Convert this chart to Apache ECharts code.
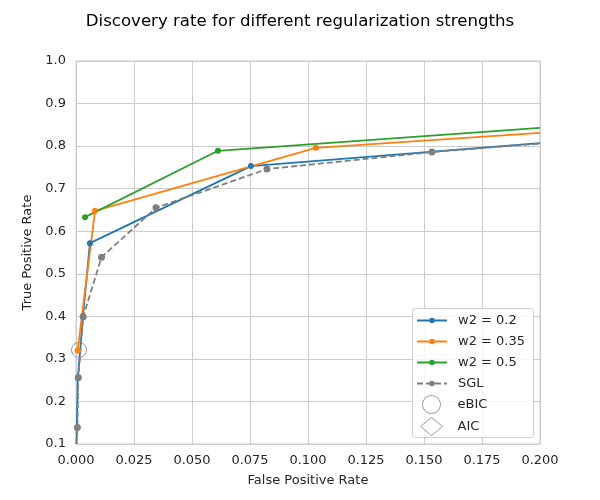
<!DOCTYPE html>
<html>
<head>
<meta charset="utf-8">
<script src="https://cdn.jsdelivr.net/npm/echarts@6/dist/echarts.min.js"></script>
<style>
  html, body { margin: 0; padding: 0; background: #fff; }
  #chart { width: 600px; height: 500px; }
</style>
</head>
<body>
<div id="chart"></div>
<script>
// values
const blueX = [0.0002, 0.0008, 0.003, 0.006, 0.0754, 0.2]
const blueY = [0.1, 0.255, 0.40, 0.572, 0.753, 0.807]
const orangeX = [0.0007, 0.0082, 0.1034, 0.2]
const orangeY = [0.32, 0.648, 0.796, 0.831]
const greenX = [0.0039, 0.0612, 0.2]
const greenY = [0.633, 0.789, 0.843]
const sglX = [0.0002, 0.0006, 0.001, 0.0031, 0.011, 0.0345, 0.0823, 0.1534, 0.2]
const sglY = [0.1, 0.139, 0.256, 0.399, 0.539, 0.655, 0.746, 0.786, 0.806]
const ebicX = [0.0013]
const ebicY = [0.321]
const aicX = []
const aicY = []

const font = 'DejaVu Sans'
const textColor = '#262626'

// points sitting on the plot edge are only where the line leaves the view, no dot there
function pts(xs, ys) {
  return xs.map((x, i) => {
    const edge = x >= 0.2 || ys[i] <= 0.1
    return edge ? { value: [x, ys[i]], symbolSize: 0 } : [x, ys[i]]
  })
}

function lineSeries(name, xs, ys, color, size, dashed) {
  return {
    name: name,
    type: 'line',
    data: pts(xs, ys),
    symbol: 'circle',
    symbolSize: size,
    clip: true,
    itemStyle: { color: color },
    lineStyle: { color: color, width: 1.8, type: dashed ? [6, 3] : 'solid' },
    emphasis: { disabled: true }
  }
}

const chart = echarts.init(document.getElementById('chart'))
chart.setOption({
  animation: false,
  title: {
    text: 'Discovery rate for different regularization strengths',
    left: 'center',
    top: 8,
    textStyle: { fontFamily: font, fontSize: 16.6, fontWeight: 'normal', color: '#000' }
  },
  grid: { left: 76, right: 60, top: 61, bottom: 56, show: true, borderColor: '#cccccc', borderWidth: 1 },
  xAxis: {
    type: 'value',
    min: 0, max: 0.2, interval: 0.025,
    name: 'False Positive Rate',
    nameLocation: 'middle',
    nameGap: 30,
    nameTextStyle: { fontFamily: font, fontSize: 13, color: textColor },
    axisLine: { show: false },
    axisTick: { show: false },
    axisLabel: { fontFamily: font, fontSize: 13, color: textColor, margin: 10, formatter: v => v.toFixed(3) },
    splitLine: { lineStyle: { color: '#cccccc', width: 1 } }
  },
  yAxis: {
    type: 'value',
    min: 0.1, max: 1.0, interval: 0.1,
    name: 'True Positive Rate',
    nameLocation: 'middle',
    nameGap: 38,
    nameTextStyle: { fontFamily: font, fontSize: 13, color: textColor },
    axisLine: { show: false },
    axisTick: { show: false },
    axisLabel: { fontFamily: font, fontSize: 13, color: textColor, margin: 10, formatter: v => v.toFixed(1) },
    splitLine: { lineStyle: { color: '#cccccc', width: 1 } }
  },
  // legend frame, shared by the two legends below
  graphic: [{
    type: 'rect',
    z: 3,
    shape: { x: 412.5, y: 308.5, width: 121, height: 129, r: 3 },
    style: { fill: 'rgba(255,255,255,0.8)', stroke: '#cccccc', lineWidth: 1 }
  }],
  legend: [
    {
      orient: 'vertical',
      left: 411,
      top: 313,
      padding: [0, 0, 0, 5],
      itemGap: 6,
      itemWidth: 30,
      itemHeight: 7,
      textStyle: { fontFamily: font, fontSize: 13, color: textColor, padding: [0, 0, 0, 6], lineHeight: 15 },
      data: ['w2 = 0.2', 'w2 = 0.35', 'w2 = 0.5', 'SGL']
    },
    {
      orient: 'vertical',
      left: 420,
      top: 395,
      padding: 0,
      itemGap: 3,
      itemWidth: 22,
      itemHeight: 18,
      textStyle: { fontFamily: font, fontSize: 13, color: textColor, padding: [0, 0, 0, 10] },
      data: [
        { name: 'eBIC', icon: 'circle', itemStyle: { color: '#fff', borderColor: '#7f7f7f', borderWidth: 1 } },
        { name: 'AIC', icon: 'diamond', itemStyle: { color: '#fff', borderColor: '#7f7f7f', borderWidth: 1 } }
      ]
    }
  ],
  series: [
    lineSeries('w2 = 0.2', blueX, blueY, '#1f77b4', 6, false),
    lineSeries('w2 = 0.35', orangeX, orangeY, '#ff7f0e', 6, false),
    lineSeries('w2 = 0.5', greenX, greenY, '#2ca02c', 6, false),
    lineSeries('SGL', sglX, sglY, '#7f7f7f', 7, true),
    {
      name: 'eBIC',
      type: 'scatter',
      data: ebicX.map((x, i) => [x, ebicY[i]]),
      symbol: 'circle',
      symbolSize: 15,
      itemStyle: { color: 'rgba(0,0,0,0)', borderColor: '#7f7f7f', borderWidth: 1 },
      emphasis: { disabled: true }
    },
    {
      name: 'AIC',
      type: 'scatter',
      data: aicX.map((x, i) => [x, aicY[i]]),
      symbol: 'diamond',
      symbolSize: 18,
      itemStyle: { color: 'rgba(0,0,0,0)', borderColor: '#7f7f7f', borderWidth: 1 }
    }
  ]
})
</script>
</body>
</html>
